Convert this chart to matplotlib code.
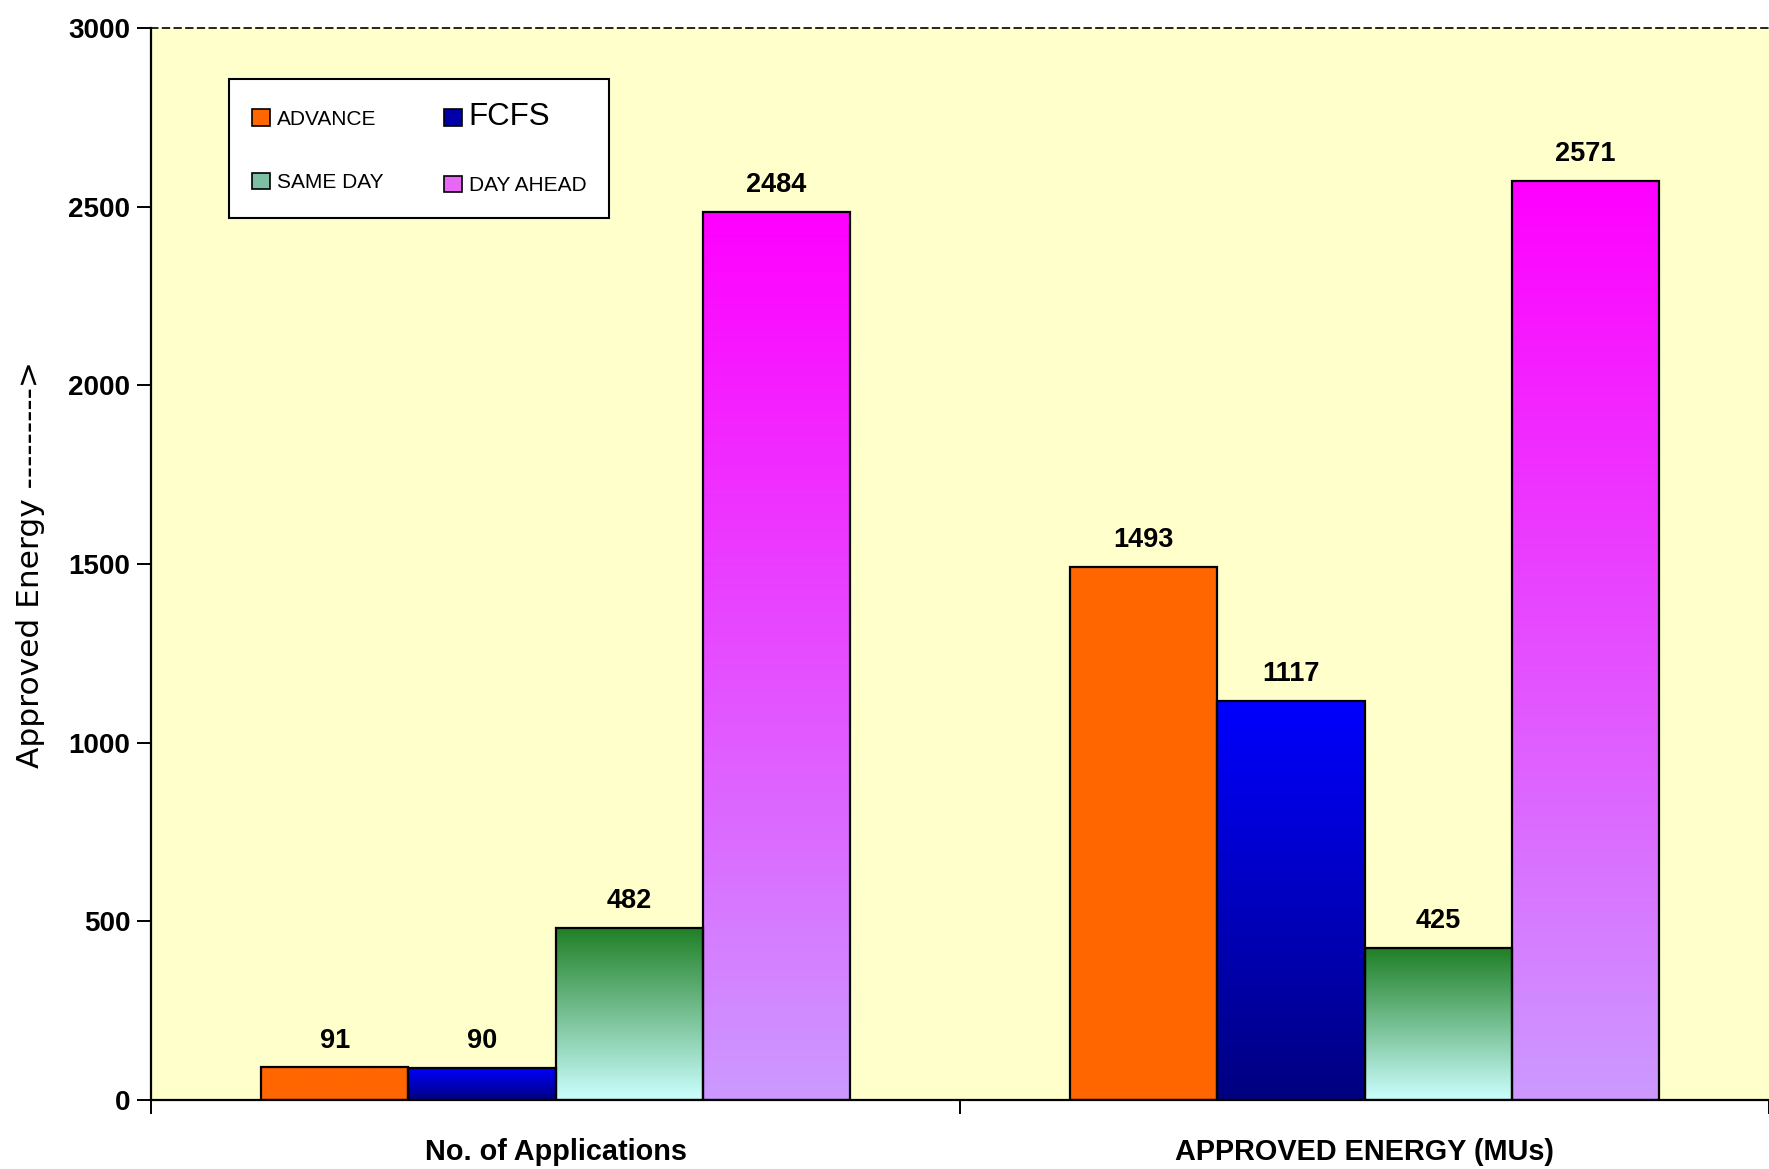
import numpy as np
import matplotlib
matplotlib.use("Agg")
import matplotlib.pyplot as plt
from matplotlib.colors import LinearSegmentedColormap
from matplotlib.patches import Patch

# ---------------- data ----------------
categories = ["No. of Applications", "APPROVED ENERGY (MUs)"]
series_names = ["ADVANCE", "FCFS", "SAME DAY", "DAY AHEAD"]
advance = [91, 1493]
fcfs = [90, 1117]
same_day = [482, 425]
day_ahead = [2484, 2571]
yticks = [0, 500, 1000, 1500, 2000, 2500, 3000]
ylabel = "Approved Energy --------->"

# gradient colours (top, bottom) per series
grad_colors = {
    "ADVANCE": ("#FF6600", "#FF6600"),
    "FCFS": ("#0000FF", "#000080"),
    "SAME DAY": ("#1F7F25", "#CCFFFF"),
    "DAY AHEAD": ("#FF00FF", "#CC99FF"),
}
legend_colors = {
    "ADVANCE": "#FF6600",
    "FCFS": "#0000A8",
    "SAME DAY": "#7DBFA5",
    "DAY AHEAD": "#E668F5",
}

plt.rcParams["font.family"] = ["Liberation Sans", "DejaVu Sans"]

W, H = 1769, 1169
fig = plt.figure(figsize=(W / 100, H / 100), dpi=100)
fig.patch.set_facecolor("white")
ax_left, ax_top, ax_bottom = 151, 28, 1100
ax = fig.add_axes([ax_left / W, 1 - ax_bottom / H, 1 - ax_left / W, (ax_bottom - ax_top) / H])
ax.set_facecolor("#FFFFCC")

x = np.arange(len(categories))
w = 1 / 5.5
grad = np.linspace(0, 1, 256).reshape(-1, 1)
all_vals = [advance, fcfs, same_day, day_ahead]
for i, (name, vals) in enumerate(zip(series_names, all_vals)):
    offs = (i - 1.5) * w
    bars = ax.bar(x + offs, vals, w, facecolor="none", edgecolor="black",
                  linewidth=1.6, zorder=3)
    top, bot = grad_colors[name]
    cmap = LinearSegmentedColormap.from_list(name, [bot, top])
    for b in bars:
        x0 = b.get_x()
        ax.imshow(grad, extent=(x0, x0 + b.get_width(), 0, b.get_height()),
                  origin="lower", cmap=cmap, aspect="auto", zorder=2,
                  interpolation="bilinear")
    ax.bar_label(bars, labels=[str(v) for v in vals], padding=10,
                 fontsize=19.5, fontweight="bold")

ax.set_xlim(-0.5, 1.5)
ax.set_ylim(0, 3000)
ax.set_aspect("auto")

# spines
ax.spines["right"].set_visible(False)
ax.spines["top"].set_linestyle((0, (4, 3)))
ax.spines["top"].set_linewidth(1.2)
for s in ("left", "bottom"):
    ax.spines[s].set_linewidth(1.6)
    ax.spines[s].set_color("black")

# y ticks
ax.set_yticks(yticks)
ax.set_yticklabels([str(v) for v in yticks], fontsize=20, fontweight="bold")
ax.tick_params(axis="y", direction="out", length=10, width=1.4, pad=5)

# x ticks
ax.set_xticks(x)
ax.set_xticklabels(categories, fontsize=20.8, fontweight="bold")
ax.tick_params(axis="x", which="major", length=0, pad=27)
ax.set_xticks([-0.5, 0.5, 1.5], minor=True)
ax.tick_params(axis="x", which="minor", direction="out", length=10, width=1.4)

# y label (reference text is elongated; a wide face approximates it)
ax.set_ylabel(ylabel, fontsize=22.5, family=["DejaVu Sans"])
ax.yaxis.set_label_coords((45 - ax_left) / (W - ax_left), (ax_bottom - 565) / (ax_bottom - ax_top))

# legend (column-major order for ncol=2)
order = ["ADVANCE", "SAME DAY", "FCFS", "DAY AHEAD"]
handles = [Patch(facecolor=legend_colors[n], edgecolor="black", linewidth=1.2, label=n) for n in order]
leg = ax.legend(handles=handles, ncol=2, loc="upper left",
                bbox_to_anchor=(229 / W, 1 - 79 / H), bbox_transform=fig.transFigure,
                borderaxespad=0, fontsize=15, frameon=True, fancybox=False,
                framealpha=1, edgecolor="black", handlelength=0.85, handleheight=0.85,
                handletextpad=0.35, labelspacing=2.1, columnspacing=2.9, borderpad=1.1)
leg.get_frame().set_linewidth(1.5)
for t in leg.get_texts():
    if t.get_text() == "FCFS":
        t.set_fontsize(22.5)

fig.savefig("out.png", dpi=100)
